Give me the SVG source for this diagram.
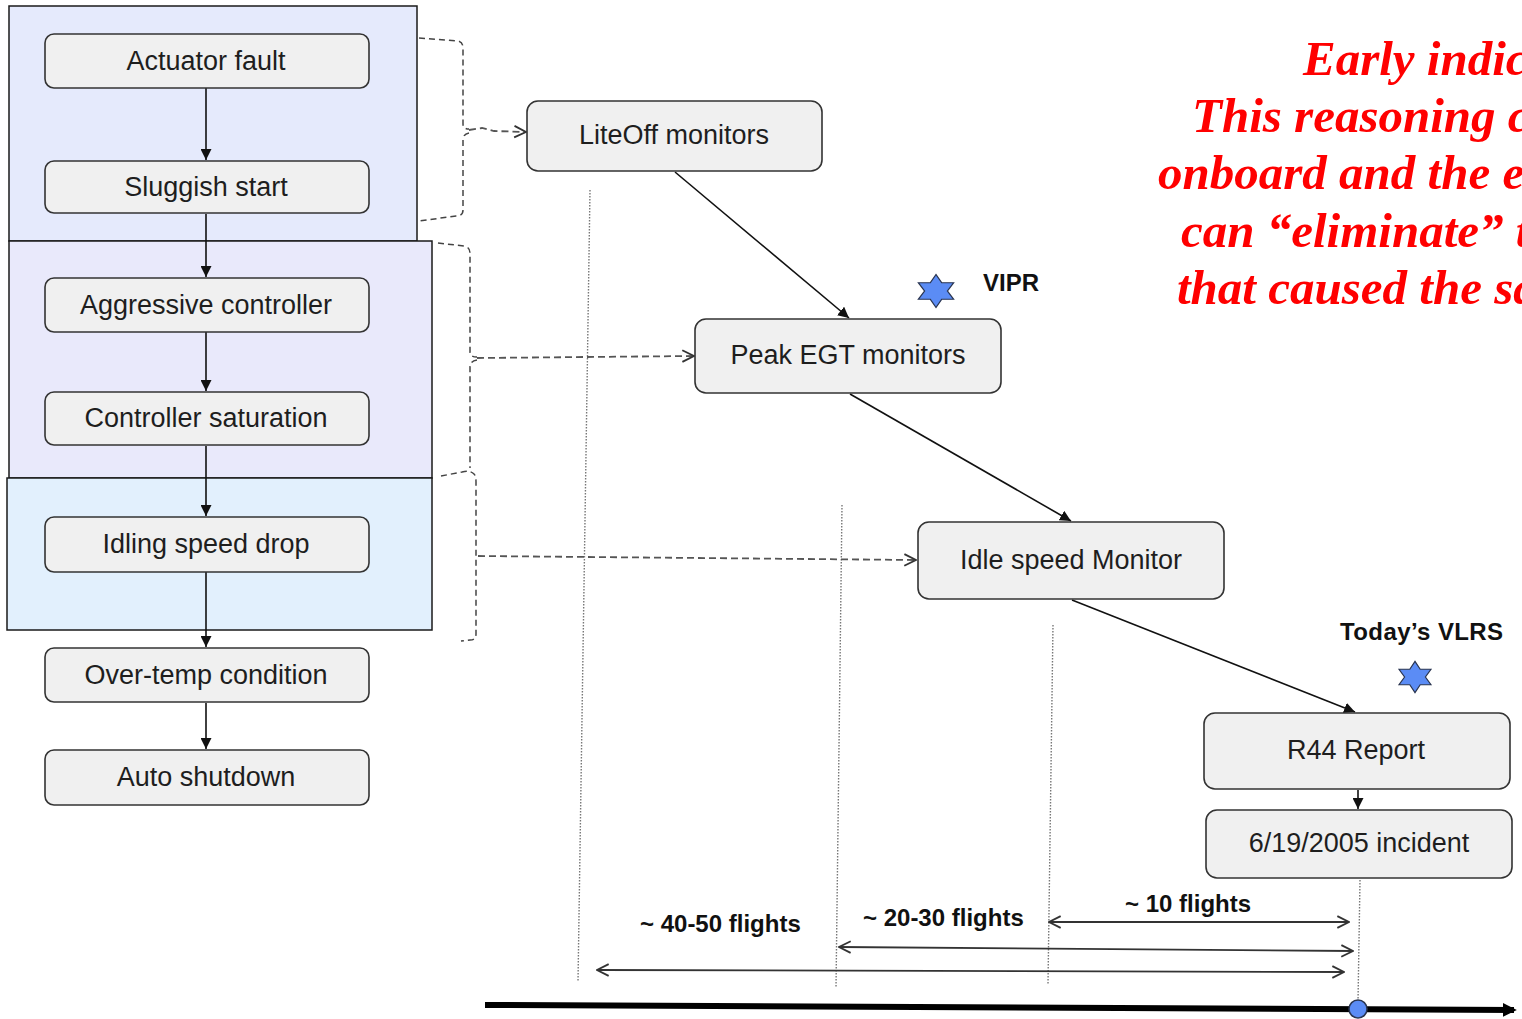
<svg xmlns="http://www.w3.org/2000/svg" xmlns:xlink="http://www.w3.org/1999/xlink" width="1522" height="1019" viewBox="0 0 1522 1019">
  <style>
    .panel { stroke: #1a1a1a; stroke-width: 1.5; }
    .node rect { fill: #f0f0f0; stroke: #333; stroke-width: 1.6; }
    .node text { font-family: "Liberation Sans", Arial, sans-serif; font-size: 27px; fill: #1e1e1e; text-anchor: middle; }
    .flow { stroke: #111; stroke-width: 1.6; fill: none; marker-end: url(#solidHead); }
    .bracket { stroke: #444; stroke-width: 1.5; fill: none; stroke-dasharray: 6 4; }
    .hint { stroke: #555; stroke-width: 1.8; fill: none; stroke-dasharray: 7 4; marker-end: url(#openHead); }
    .guide { stroke: #777; stroke-width: 1.4; fill: none; stroke-dasharray: 1.5 1.5; }
    .span { stroke: #333; stroke-width: 1.8; fill: none; marker-start: url(#openHeadStart); marker-end: url(#openHead); }
    .label { font-family: "Liberation Sans", Arial, sans-serif; font-size: 24px; font-weight: bold; fill: #111; }
    .note { font-family: "Liberation Serif", "Times New Roman", serif; font-size: 49px; font-weight: bold; font-style: italic; fill: #ff0000; }
    .star { fill: #5b8cf5; stroke: #2a3550; stroke-width: 1.2; }
  </style>
  <defs>
    <marker id="solidHead" viewBox="0 0 10 10" refX="10" refY="5" markerWidth="11" markerHeight="11" markerUnits="userSpaceOnUse" orient="auto">
      <path d="M0,0 L10,5 L0,10 Z" fill="#111"/>
    </marker>
    <marker id="openHead" viewBox="0 0 12 12" refX="11" refY="6" markerWidth="14" markerHeight="14" markerUnits="userSpaceOnUse" orient="auto">
      <path d="M1,1 L11,6 L1,11" fill="none" stroke="#333" stroke-width="1.6"/>
    </marker>
    <marker id="openHeadStart" viewBox="0 0 12 12" refX="1" refY="6" markerWidth="14" markerHeight="14" markerUnits="userSpaceOnUse" orient="auto">
      <path d="M11,1 L1,6 L11,11" fill="none" stroke="#333" stroke-width="1.6"/>
    </marker>
    <marker id="timeHead" viewBox="0 0 10 10" refX="8" refY="5" markerWidth="14" markerHeight="14" markerUnits="userSpaceOnUse" orient="auto">
      <path d="M0,0 L10,5 L0,10 Z" fill="#000"/>
    </marker>
    <path id="star6" d="M0,-17 L5.2,-8.5 L16,-8.5 L10.4,0 L16,8.5 L5.2,8.5 L0,17 L-5.2,8.5 L-16,8.5 L-10.4,0 L-16,-8.5 L-5.2,-8.5 Z"/>
  </defs>

  <!-- phase panels behind the fault chain -->
  <g id="panels">
    <rect class="panel" x="9" y="6" width="408" height="235" fill="#e5eafc"/>
    <rect class="panel" x="9" y="241" width="423" height="237" fill="#e9e9fb"/>
    <rect class="panel" x="7" y="478" width="425" height="152" fill="#e2f0fd"/>
  </g>

  <!-- timing guides -->
  <g id="guides">
    <path class="guide" d="M590,190 L578,982"/>
    <path class="guide" d="M842,505 L836,988"/>
    <path class="guide" d="M1053,625 L1048,984"/>
    <path class="guide" d="M1360,880 L1358,1002"/>
  </g>

  <!-- connectors -->
  <g id="connectors">
    <line class="flow" x1="206" y1="88" x2="206" y2="160"/>
    <line class="flow" x1="206" y1="214" x2="206" y2="277"/>
    <line class="flow" x1="206" y1="332" x2="206" y2="391"/>
    <line class="flow" x1="206" y1="446" x2="206" y2="516"/>
    <line class="flow" x1="206" y1="572" x2="206" y2="647"/>
    <line class="flow" x1="206" y1="703" x2="206" y2="749"/>

    <line class="flow" x1="675" y1="172" x2="849" y2="318"/>
    <line class="flow" x1="850" y1="394" x2="1071" y2="521"/>
    <line class="flow" x1="1072" y1="600" x2="1355" y2="712"/>
    <line class="flow" x1="1358" y1="790" x2="1358" y2="809"/>

    <!-- dashed brackets grouping the chain -->
    <path class="bracket" d="M419,38 L458,41 Q463,42 463,48 L463,124 Q463,129 469,129"/>
    <path class="bracket" d="M469,133 Q463,134 463,140 L463,210 Q463,216 456,216 L419,221"/>
    <path class="hint" d="M469,130 L482,128 L494,131 L526,132"/>

    <path class="bracket" d="M438,243 L464,246 Q470,247 470,253 L470,352 Q470,357 477,357"/>
    <path class="bracket" d="M477,360 Q470,361 470,367 L470,468"/>
    <path class="hint" d="M477,358 L694,356"/>

    <path class="bracket" d="M441,476 L462,472 Q470,470 474,474 Q476,476 476,482 L476,634 Q476,640 470,640 L461,641"/>
    <path class="hint" d="M478,556 L916,560"/>

    <!-- flight-count spans -->
    <line class="span" x1="1049" y1="922" x2="1349" y2="922"/>
    <line class="span" x1="839" y1="947" x2="1353" y2="951"/>
    <line class="span" x1="597" y1="970" x2="1344" y2="972"/>

    <!-- time axis -->
    <line x1="485" y1="1005" x2="1514" y2="1010" stroke="#000" stroke-width="6" marker-end="url(#timeHead)"/>
  </g>

  <!-- fault chain -->
  <g id="actuator-fault" class="node"><rect x="45" y="34" width="324" height="54" rx="9"/><text x="206" y="70">Actuator fault</text></g>
  <g id="sluggish-start" class="node"><rect x="45" y="161" width="324" height="52" rx="9"/><text x="206" y="196">Sluggish start</text></g>
  <g id="aggressive-controller" class="node"><rect x="45" y="278" width="324" height="54" rx="9"/><text x="206" y="314">Aggressive controller</text></g>
  <g id="controller-saturation" class="node"><rect x="45" y="392" width="324" height="53" rx="9"/><text x="206" y="427">Controller saturation</text></g>
  <g id="idling-speed-drop" class="node"><rect x="45" y="517" width="324" height="55" rx="9"/><text x="206" y="553">Idling speed drop</text></g>
  <g id="over-temp" class="node"><rect x="45" y="648" width="324" height="54" rx="9"/><text x="206" y="684">Over-temp condition</text></g>
  <g id="auto-shutdown" class="node"><rect x="45" y="750" width="324" height="55" rx="9"/><text x="206" y="786">Auto shutdown</text></g>

  <!-- monitors -->
  <g id="liteoff-monitors" class="node"><rect x="527" y="101" width="295" height="70" rx="11"/><text x="674" y="144">LiteOff monitors</text></g>
  <g id="peak-egt-monitors" class="node"><rect x="695" y="319" width="306" height="74" rx="11"/><text x="848" y="364">Peak EGT monitors</text></g>
  <g id="idle-speed-monitor" class="node"><rect x="918" y="522" width="306" height="77" rx="11"/><text x="1071" y="569">Idle speed Monitor</text></g>
  <g id="r44-report" class="node"><rect x="1204" y="713" width="306" height="76" rx="11"/><text x="1356" y="759">R44 Report</text></g>
  <g id="incident" class="node"><rect x="1206" y="810" width="306" height="68" rx="11"/><text x="1359" y="852">6/19/2005 incident</text></g>

  <!-- markers and labels -->
  <g id="vipr">
    <use href="#star6" class="star" transform="translate(936,291) scale(1.1,0.97)"/>
    <text class="label" x="983" y="291">VIPR</text>
  </g>
  <g id="todays-vlrs">
    <text class="label" x="1340" y="640" letter-spacing="0.4">Today’s VLRS</text>
    <use href="#star6" class="star" transform="translate(1415,677) scale(1.0,0.92)"/>
  </g>
  <g id="span-labels">
    <text class="label" x="1125" y="912">~ 10 flights</text>
    <text class="label" x="863" y="926">~ 20-30 flights</text>
    <text class="label" x="640" y="932">~ 40-50 flights</text>
  </g>
  <circle id="incident-date" cx="1358" cy="1009" r="9" fill="#5b8cf5" stroke="#2a3550" stroke-width="1.5"/>

  <g id="note">
    <text class="note" x="1303" y="75">Early indic</text>
    <text class="note" x="1192" y="132">This reasoning c</text>
    <text class="note" x="1158" y="189">onboard and the e</text>
    <text class="note" x="1181" y="247">can “eliminate” t</text>
    <text class="note" x="1177" y="304">that caused the sa</text>
  </g>
</svg>
